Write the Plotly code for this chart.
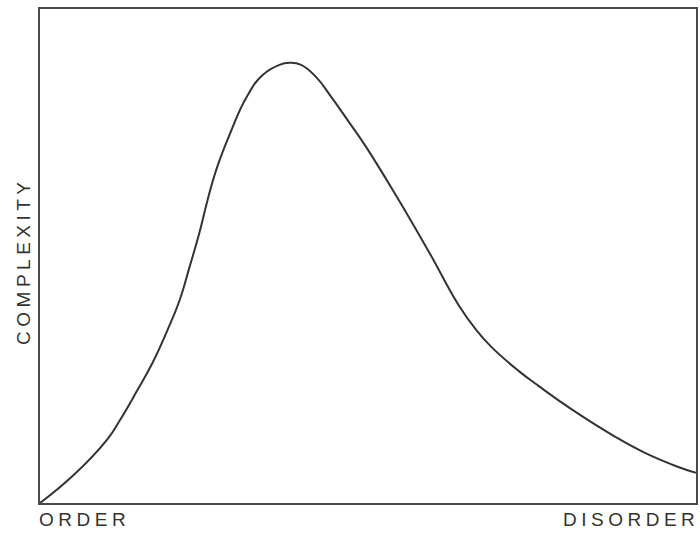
import plotly.graph_objects as go

# curve: disorder (0..100) vs complexity (0..100)
disorder = [0, 5.0, 10.2, 12.2, 14.7, 17.2, 19.3, 21.3, 22.8, 24.3, 25.5, 26.9,
            29.0, 31.5, 33.9, 36.5, 38.0, 39.8, 42.1, 44.5, 47.1, 49.7, 54.3,
            59.3, 63.8, 66.4, 68.8, 73.0, 76.0, 81.0, 87.7, 92.3, 97.3, 100]
complexity = [0, 5.5, 12.8, 16.8, 22.5, 28.5, 34.6, 41.1, 47.8, 54.7, 61.1, 67.6,
              74.9, 82.2, 86.6, 88.7, 89.1, 88.7, 86.2, 82.0, 77.1, 72.1, 62.2,
              50.8, 40.1, 35.2, 31.6, 26.7, 23.7, 19.0, 13.4, 10.1, 7.3, 6.1]

x_labels = ["ORDER", "DISORDER"]
y_label = "COMPLEXITY"

ink = "#333333"
font = dict(family="Liberation Sans, Arial, sans-serif", size=19, color=ink)


def spaced(text):
    return f'<span style="letter-spacing:4.5px">{text}</span>'


fig = go.Figure()

fig.add_trace(go.Scatter(
    x=disorder,
    y=complexity,
    mode="lines",
    line=dict(color=ink, width=2, shape="spline", smoothing=1.3),
    hoverinfo="skip",
    showlegend=False,
))

# axis end labels
fig.add_annotation(xref="paper", yref="paper", x=0, y=0, text=spaced(x_labels[0]),
                   showarrow=False, xanchor="left", yanchor="top", yshift=-4,
                   xshift=-3, font=font)
fig.add_annotation(xref="paper", yref="paper", x=1, y=0, text=spaced(x_labels[1]),
                   showarrow=False, xanchor="right", yanchor="top", yshift=-4,
                   xshift=5, font=font)
fig.add_annotation(xref="paper", yref="paper", x=0, y=0.488, text=spaced(y_label),
                   showarrow=False, textangle=-90, xanchor="center",
                   yanchor="middle", xshift=-16, font=font)

axis = dict(range=[0, 100], showgrid=False, zeroline=False, showticklabels=False,
            ticks="", showline=True, mirror=True, linecolor="#4a4a4a", linewidth=2)

fig.update_layout(
    width=700,
    height=534,
    margin=dict(l=40, r=2, t=9, b=31),
    paper_bgcolor="white",
    plot_bgcolor="white",
    xaxis=axis,
    yaxis=axis,
    showlegend=False,
)

# drop the browser's default body margin so the 700x534 figure fills the window
fig.write_html("out.html", config={"displayModeBar": False},
               post_script="document.body.style.margin = '0';")
